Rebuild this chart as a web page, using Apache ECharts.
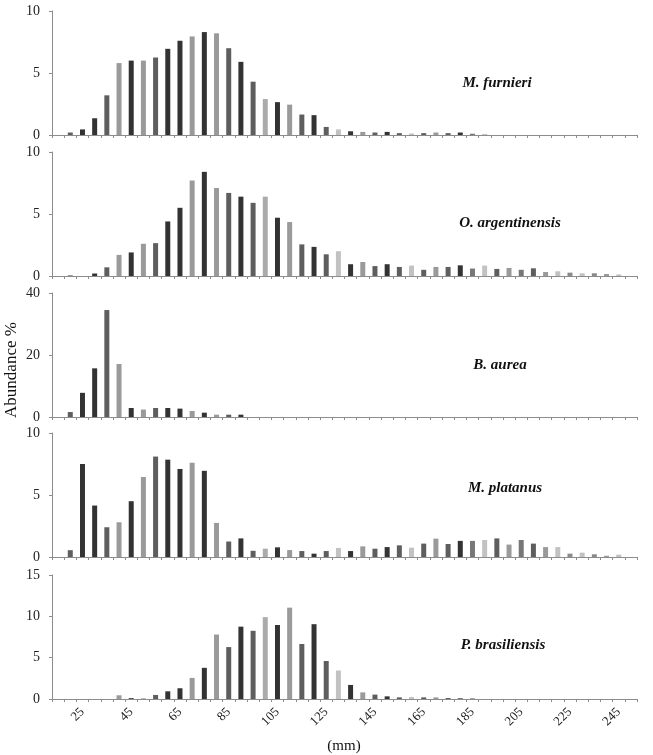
<!DOCTYPE html>
<html>
<head>
<meta charset="utf-8">
<script src="https://cdn.jsdelivr.net/npm/echarts@6/dist/echarts.min.js"></script>
<style>
  html, body { margin: 0; padding: 0; background: #fff; }
  #chart { width: 653px; height: 755px; }
</style>
</head>
<body>
<div id="chart"></div>
<script>
// size classes (mm), 5 mm bins
var sizeClasses = ['15','20','25','30','35','40','45','50','55','60','65','70','75','80','85','90',
  '95','100','105','110','115','120','125','130','135','140','145','150','155','160','165','170',
  '175','180','185','190','195','200','205','210','215','220','225','230','235','240','245','250'];

var furnieri = [0, 0.2, 0.45, 1.35, 3.2, 5.8, 6.0, 6.0, 6.25, 6.95, 7.6, 7.95, 8.3, 8.2, 7.0, 5.9,
  4.3, 2.9, 2.65, 2.45, 1.65, 1.6, 0.65, 0.45, 0.3, 0.25, 0.2, 0.25, 0.15, 0.12, 0.15, 0.2,
  0.15, 0.2, 0.1, 0.08, 0, 0, 0, 0, 0, 0, 0, 0, 0, 0, 0, 0];

var argentinensis = [0, 0.05, 0, 0.2, 0.7, 1.7, 1.9, 2.6, 2.65, 4.4, 5.5, 7.7, 8.4, 7.1, 6.7, 6.4,
  5.9, 6.4, 4.7, 4.35, 2.55, 2.35, 1.75, 2.0, 0.95, 1.13, 0.8, 0.95, 0.73, 0.84, 0.5, 0.73,
  0.73, 0.86, 0.6, 0.84, 0.57, 0.65, 0.5, 0.62, 0.32, 0.38, 0.27, 0.22, 0.22, 0.16, 0.13, 0];

var aurea = [0, 1.6, 7.8, 15.7, 34.5, 17.1, 2.9, 2.4, 2.9, 2.9, 2.7, 1.95, 1.4, 0.75, 0.75, 0.75,
  0, 0, 0, 0, 0, 0, 0, 0, 0, 0, 0, 0, 0, 0, 0, 0,
  0, 0, 0, 0, 0, 0, 0, 0, 0, 0, 0, 0, 0, 0, 0, 0];

var platanus = [0, 0.55, 7.5, 4.15, 2.4, 2.8, 4.5, 6.45, 8.1, 7.85, 7.1, 7.6, 6.95, 2.75, 1.25, 1.5,
  0.5, 0.67, 0.78, 0.56, 0.48, 0.27, 0.48, 0.73, 0.48, 0.86, 0.67, 0.8, 0.94, 0.75, 1.08, 1.48,
  1.05, 1.3, 1.3, 1.37, 1.5, 1.0, 1.37, 1.08, 0.8, 0.8, 0.27, 0.35, 0.22, 0.1, 0.19, 0];

var brasiliensis = [0, 0, 0, 0, 0, 0.45, 0.1, 0.08, 0.49, 0.93, 1.3, 2.55, 3.77, 7.8, 6.28, 8.75,
  8.25, 9.9, 8.95, 11.05, 6.65, 9.05, 4.6, 3.45, 1.7, 0.8, 0.53, 0.32, 0.2, 0.24, 0.2, 0.2,
  0.12, 0.08, 0.08, 0, 0, 0, 0, 0, 0, 0, 0, 0, 0, 0, 0, 0];

var species = ['M. furnieri', 'O. argentinensis', 'B. aurea', 'M. platanus', 'P. brasiliensis'];
var speciesData = [furnieri, argentinensis, aurea, platanus, brasiliensis];
var yMax = [10, 10, 40, 10, 15];
var yStep = [5, 5, 20, 5, 5];

// grey shade of each size class (same in every panel)
var D = '#333333', M = '#5e5e5e', L = '#9a9a9a', V = '#c2c2c2';
var classShade = [M, M, D, D, M, L, D, L, M, D, D, L, D, L, M, D,
  M, '#ababab', D, L, M, D, M, V, D, L, M, D, M, V, M, L,
  M, D, '#777777', V, M, L, '#777777', M, L, V, '#8a8a8a', V, '#8a8a8a', L, V, L];

var chart = echarts.init(document.getElementById('chart'));

var panelTop = [11, 152, 293, 433, 575];
var panelH = 124;
var labelPos = [[497, 83], [510, 223], [500, 365], [505, 488], [503, 645]];
var serif = '"Liberation Serif", "Times New Roman", serif';

var grids = [], xAxes = [], yAxes = [], series = [], graphics = [];
for (var i = 0; i < 5; i++) {
  grids.push({ left: 52, right: 16, top: panelTop[i], height: panelH });
  xAxes.push({
    type: 'category',
    gridIndex: i,
    data: sizeClasses,
    boundaryGap: true,
    axisLine: { lineStyle: { color: '#8c8c8c', width: 1 } },
    axisTick: { show: true, interval: 0, length: 3, lineStyle: { color: '#8c8c8c' } },
    axisLabel: {
      show: i === 4,
      interval: function (idx) { return idx % 4 === 2; },
      rotate: 45,
      margin: 11,
      fontFamily: serif,
      fontSize: 13,
      color: '#222'
    },
    splitLine: { show: false }
  });
  yAxes.push({
    type: 'value',
    gridIndex: i,
    min: 0,
    max: yMax[i],
    interval: yStep[i],
    axisLine: { show: true, lineStyle: { color: '#8c8c8c', width: 1 } },
    axisTick: { show: true, length: 3, lineStyle: { color: '#8c8c8c' } },
    axisLabel: { fontFamily: serif, fontSize: 14, color: '#222', margin: 12 },
    splitLine: { show: false }
  });
  series.push({
    type: 'bar',
    xAxisIndex: i,
    yAxisIndex: i,
    barWidth: 5,
    data: speciesData[i].map(function (v, k) {
      return { value: v, itemStyle: { color: classShade[k] } };
    })
  });
  graphics.push({
    type: 'text',
    x: labelPos[i][0],
    y: labelPos[i][1],
    style: {
      text: species[i],
      font: 'italic bold 15px ' + serif,
      fill: '#111',
      textAlign: 'center',
      textVerticalAlign: 'middle'
    }
  });
}

graphics.push({
  type: 'text',
  x: 12,
  y: 370,
  rotation: Math.PI / 2,
  style: {
    text: 'Abundance %',
    font: '17px ' + serif,
    fill: '#111',
    textAlign: 'center',
    textVerticalAlign: 'middle'
  }
});
graphics.push({
  type: 'text',
  x: 344,
  y: 746,
  style: {
    text: '(mm)',
    font: '15px ' + serif,
    fill: '#111',
    textAlign: 'center',
    textVerticalAlign: 'middle'
  }
});

chart.setOption({
  animation: false,
  backgroundColor: '#fff',
  grid: grids,
  xAxis: xAxes,
  yAxis: yAxes,
  series: series,
  graphic: graphics
});
</script>
</body>
</html>
